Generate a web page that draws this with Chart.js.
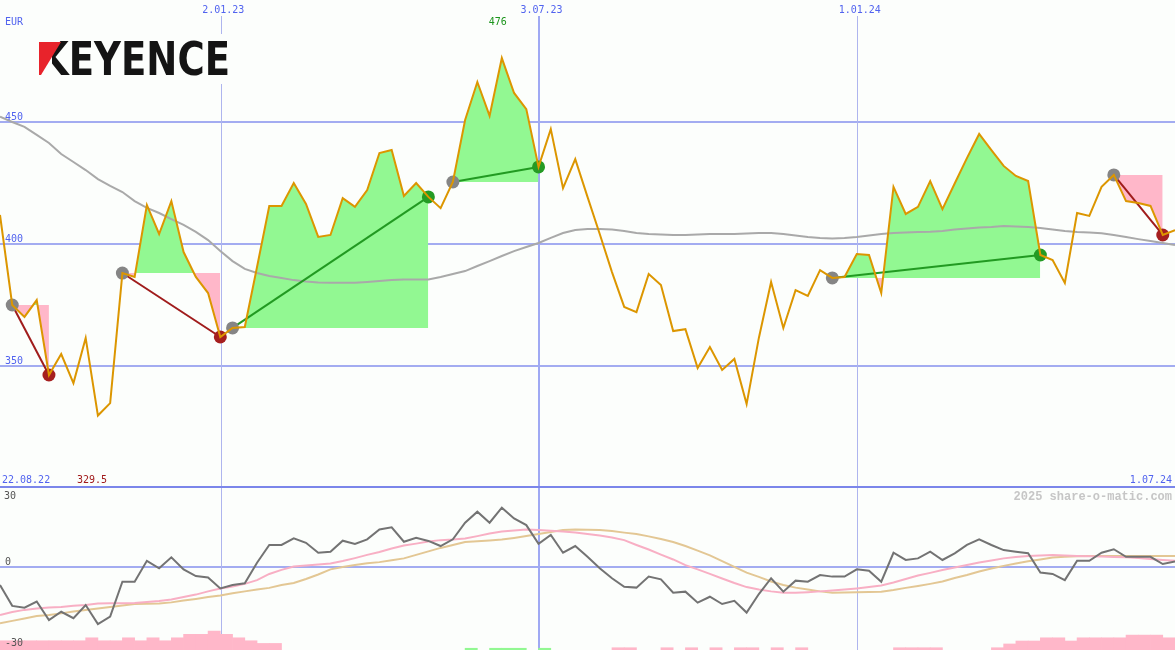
<!DOCTYPE html>
<html>
<head>
<meta charset="utf-8">
<script src="https://cdn.jsdelivr.net/npm/chart.js@4.4.0/dist/chart.umd.min.js"></script>
<style>
  html, body { margin: 0; padding: 0; background: #fcfefc; }
  #wrap { position: relative; width: 1175px; height: 650px; overflow: hidden; }
  #top { position: absolute; left: 0; top: 0; }
  #low { position: absolute; left: 0; top: 488px; }
</style>
</head>
<body>
<div id="wrap">
  <canvas id="top" width="1175" height="488"></canvas>
  <canvas id="low" width="1175" height="162"></canvas>
</div>
<script>
// weekly closes, 22.08.22 .. 1.07.24 (index = week number)
const weeks = [...Array(97).keys()];

const price = [
  411.7, 374.8, 369.9, 376.8, 346.1, 354.7, 342.8, 361.3, 329.5, 334.6,
  387.9, 386.3, 415.8, 403.9, 417.4, 396.5, 386.3, 379.7, 361.7, 365.4,
  365.8, 390.4, 415.4, 415.4, 424.8, 416.2, 402.7, 403.5, 418.6, 415.0,
  421.9, 437.1, 438.3, 419.5, 424.8, 419.1, 414.5, 425.2, 450.6, 466.2,
  452.3, 476.0, 461.7, 455.1, 431.4, 446.9, 422.7, 434.6, 419.1, 403.9,
  388.3, 374.0, 371.9, 387.5, 383.0, 364.1, 364.9, 349.0, 357.6, 348.2,
  352.7, 334.2, 361.3, 384.2, 365.4, 380.9, 378.5, 389.1, 385.9, 386.3,
  395.7, 395.3, 379.7, 423.2, 412.1, 415.0, 425.6, 414.1, 424.6, 435.0,
  444.9, 438.3, 431.8, 427.7, 425.6, 395.3, 393.2, 383.8, 412.5, 411.3,
  423.2, 428.1, 417.4, 416.6, 415.4, 403.5, 405.5
];

// long moving average (grey)
const avg = [
  452.0, 449.8, 447.8, 444.5, 441.2, 436.7, 433.4, 430.1, 426.4, 423.6,
  421.1, 417.4, 414.6, 412.5, 410.0, 407.6, 404.8, 401.4, 396.9, 392.8,
  389.6, 387.9, 386.7, 385.9, 385.0, 384.4, 384.0, 383.9, 383.9, 383.9,
  384.2, 384.6, 385.0, 385.2, 385.3, 385.3, 386.3, 387.5, 388.7, 390.8,
  392.8, 394.9, 396.9, 398.6, 400.2, 402.3, 404.3, 405.5, 405.9, 405.9,
  405.7, 405.1, 404.3, 403.9, 403.7, 403.5, 403.5, 403.7, 403.9, 403.9,
  403.9, 404.1, 404.3, 404.3, 403.9, 403.3, 402.7, 402.3, 402.1, 402.3,
  402.7, 403.3, 403.9, 404.3, 404.5, 404.7, 404.8, 405.1, 405.7, 406.2,
  406.6, 406.8, 407.2, 407.0, 406.8, 406.4, 405.7, 405.1, 404.7, 404.5,
  404.2, 403.5, 402.7, 401.8, 401.0, 400.2, 399.4
];

// lower panel: oscillator and its two signal lines
const osc = [
  -6.5, -14.3, -15.0, -12.7, -19.6, -16.5, -18.9, -14.0, -21.1, -18.3,
  -5.3, -5.3, 2.5, -0.3, 3.8, -0.7, -3.2, -3.7, -7.8, -6.5,
  -5.9, 1.8, 8.4, 8.4, 10.9, 9.2, 5.5, 5.9, 10.0, 8.8,
  10.5, 14.2, 15.0, 9.6, 11.1, 9.9, 8.0, 10.5, 16.7, 20.8,
  16.7, 22.3, 18.3, 15.8, 8.8, 12.1, 5.5, 8.0, 4.0, -0.3,
  -4.0, -7.2, -7.5, -3.4, -4.4, -9.4, -9.0, -13.1, -10.9, -13.6,
  -12.4, -16.8, -9.9, -4.0, -9.0, -4.9, -5.3, -2.8, -3.4, -3.4,
  -0.7, -1.2, -5.3, 5.5, 2.8, 3.4, 5.9, 2.8, 5.3, 8.4,
  10.5, 8.4, 6.5, 5.9, 5.3, -1.9, -2.4, -4.7, 2.5, 2.5,
  5.5, 6.8, 4.0, 4.0, 4.0, 1.3, 2.2
];
const sigPink = [
  -17.7, -16.6, -15.8, -15.3, -14.9, -14.7, -14.3, -14.0, -13.4, -13.3,
  -13.3, -13.2, -12.9, -12.5, -11.9, -11.0, -10.1, -8.9, -7.8, -7.1,
  -6.1, -4.7, -2.4, -0.9, 0.4, 0.7, 1.1, 1.5, 2.4, 3.5,
  4.7, 5.8, 7.1, 8.2, 8.9, 9.7, 10.2, 10.4, 10.8, 11.7,
  12.7, 13.4, 13.8, 14.2, 14.0, 13.7, 13.4, 13.0, 12.5, 11.9,
  11.2, 10.2, 8.4, 6.7, 4.8, 3.0, 0.9, -0.7, -2.4, -4.1,
  -5.8, -7.3, -8.2, -8.9, -9.4, -9.4, -9.2, -8.9, -8.6, -8.2,
  -7.8, -7.3, -6.7, -5.6, -4.3, -3.0, -2.0, -0.9, 0.0, 0.9,
  1.9, 2.6, 3.4, 3.9, 4.3, 4.5, 4.7, 4.5, 4.3, 4.2,
  4.1, 3.9, 3.8, 3.5, 3.2, 2.8, 2.5
];
const sigTan = [
  -20.8, -19.9, -19.0, -18.1, -17.7, -17.1, -16.4, -15.8, -15.3, -14.7,
  -14.2, -13.6, -13.5, -13.4, -13.0, -12.3, -11.7, -11.0, -10.4, -9.6,
  -8.9, -8.2, -7.6, -6.5, -5.8, -4.3, -2.6, -0.7, 0.2, 0.9,
  1.6, 2.0, 2.7, 3.4, 4.7, 6.0, 7.3, 8.4, 9.5, 9.8,
  10.1, 10.4, 11.0, 11.7, 12.5, 13.2, 14.0, 14.2, 14.1, 14.0,
  13.6, 13.0, 12.5, 11.6, 10.6, 9.5, 8.0, 6.3, 4.5, 2.4,
  0.2, -1.9, -3.5, -5.2, -6.5, -7.5, -8.2, -8.9, -9.4, -9.3,
  -9.2, -9.1, -9.0, -8.4, -7.6, -6.9, -6.1, -5.2, -3.9, -2.8,
  -1.5, -0.4, 0.6, 1.5, 2.3, 3.0, 3.7, 4.0, 4.2, 4.3,
  4.3, 4.3, 4.3, 4.3, 4.3, 4.3, 4.3
];

// histogram blocks along the bottom edge (top value of each weekly block)
const histPink = [
  -27.3, -27.3, -27.3, -27.3, -27.3, -27.3, -27.3, -26.2, -27.3, -27.3,
  -26.2, -27.3, -26.2, -27.3, -26.2, -24.9, -24.9, -23.7, -24.9, -26.2,
  -27.3, -28.3, -28.3, null, null, null, null, null, null, null,
  null, null, null, null, null, null, null, null, null, null,
  null, null, null, null, null, null, null, null, null, null,
  -29.9, -29.9, null, null, -29.9, null, -29.9, null, -29.9, null,
  -29.9, -29.9, null, -29.9, null, -29.9, null, null, null, null,
  null, null, null, -29.9, -29.9, -29.9, -29.9, null, null, null,
  null, -29.9, -28.5, -27.4, -27.4, -26.2, -26.2, -27.4, -26.2, -26.2,
  -26.2, -26.2, -25.2, -25.2, -25.2, -26.2
];
const histGreen = [
  null, null, null, null, null, null, null, null, null, null,
  null, null, null, null, null, null, null, null, null, null,
  null, null, null, null, null, null, null, null, null, null,
  null, null, null, null, null, null, null, null, -30.1, null,
  -30.1, -30.1, -30.1, null, -30.1, null, null, null, null, null,
  null, null, null, null, null, null, null, null, null, null,
  null, null, null, null, null, null, null, null, null, null,
  null, null, null, null, null, null, null, null, null, null,
  null, null, null, null, null, null, null, null, null, null,
  null, null, null, null, null, null
];

// signals: entry week (grey dot) -> exit week (green / red dot)
const tradeFrom = [1, 10, 19, 37, 68, 91];
const tradeTo = [4, 18, 35, 44, 85, 95];

const priceTicks = [450, 400, 350];
const oscTicks = [30, 0, -30];
const dateMarks = [18, 44, 70];
const dateLabels = ['2.01.23', '3.07.23', '1.01.24'];
const firstDate = '22.08.22';
const lastDate = '1.07.24';
const currency = 'EUR';

const BG = '#fcfefc';
const GRID = '#a3acf1';
const LABEL = '#5163ef';
const MONO = '"DejaVu Sans Mono", monospace';

function pts(arr, from) {
  return arr.map((v, i) => ({ x: (from || 0) + i, y: v }));
}
function hline(ctx, x1, x2, y, w, color) {
  ctx.fillStyle = color;
  ctx.fillRect(x1, y - w / 2, x2 - x1, w);
}
function vline(ctx, x, y1, y2, w, color) {
  ctx.fillStyle = color;
  ctx.fillRect(x - w / 2, y1, w, y2 - y1);
}

// ---------- price panel ----------
var topSets = [];
topSets.push({
  data: pts(price), borderColor: '#dc9600', borderWidth: 2,
  pointRadius: 0, order: 0
});
topSets.push({
  data: tradeFrom.map(i => ({ x: i, y: price[i] })), showLine: false,
  pointRadius: 6.5, pointBackgroundColor: '#858585', pointBorderWidth: 0, order: 1
});
topSets.push({
  data: tradeTo.map(i => ({ x: i, y: price[i] })), showLine: false,
  pointRadius: 6.5, pointBorderWidth: 0, order: 1,
  pointBackgroundColor: tradeTo.map((t, k) => price[t] > price[tradeFrom[k]] ? '#249b24' : '#a51f1f')
});
tradeFrom.forEach((f, k) => {
  var t = tradeTo[k];
  var up = price[t] > price[f];
  topSets.push({
    data: [{ x: f, y: price[f] }, { x: t, y: price[t] }],
    borderColor: up ? '#229a22' : '#a01c1c', borderWidth: 2, pointRadius: 0, order: 2
  });
  topSets.push({
    data: pts(price.slice(f, t + 1), f),
    borderColor: 'rgba(0,0,0,0)', borderWidth: 0, pointRadius: 0, order: 5,
    fill: { target: { value: price[f] }, above: '#92f892', below: '#ffb7c9' }
  });
});
topSets.push({
  data: pts(avg), borderColor: '#a9a9a9', borderWidth: 2, pointRadius: 0, order: 3
});

function drawLogo(ctx) {
  ctx.fillStyle = BG;
  ctx.fillRect(24, 34, 214, 50);
  ctx.save();
  ctx.font = 'bold 46px "DejaVu Sans"';
  var w = ctx.measureText('KEYENCE').width;
  ctx.translate(40, 75);
  ctx.scale(190 / w, 1);
  ctx.fillStyle = '#141414';
  ctx.textAlign = 'left';
  ctx.textBaseline = 'alphabetic';
  ctx.fillText('KEYENCE', 0, 0);
  ctx.restore();
  ctx.fillStyle = BG;
  ctx.fillRect(36, 38, 16, 40);
  ctx.fillStyle = '#e8232b';
  ctx.beginPath();
  ctx.moveTo(39, 42); ctx.lineTo(61, 42); ctx.lineTo(41, 75); ctx.lineTo(39, 75);
  ctx.closePath();
  ctx.fill();
}

const topDecor = {
  id: 'topDecor',
  beforeDatasetsDraw(chart) {
    const { ctx, scales: { x, y }, chartArea: a } = chart;
    ctx.save();
    priceTicks.forEach(v => hline(ctx, a.left, a.right, Math.round(y.getPixelForValue(v)), 2, GRID));
    dateMarks.forEach((d, k) => {
      var px = x.getPixelForValue(d);
      if (k === 1) vline(ctx, Math.round(px), 16, a.bottom, 2, '#9fa9f3');
      else vline(ctx, Math.ceil(px) + 0.5, 16, a.bottom, 1, '#aeb5ee');
    });
    ctx.restore();
  },
  afterDatasetsDraw(chart) {
    const { ctx, scales: { x, y }, chartArea: a } = chart;
    ctx.save();
    drawLogo(ctx);
    ctx.font = '10px ' + MONO;
    ctx.textBaseline = 'alphabetic';
    ctx.fillStyle = LABEL;
    ctx.textAlign = 'left';
    ctx.fillText(currency, 5, 25);
    priceTicks.forEach(v => ctx.fillText(String(v), 5, y.getPixelForValue(v) - 2));
    ctx.textAlign = 'center';
    dateMarks.forEach((d, k) => ctx.fillText(dateLabels[k], x.getPixelForValue(d) + 3, 13));
    var hi = price.indexOf(Math.max(...price));
    var lo = price.indexOf(Math.min(...price));
    ctx.fillStyle = '#1c951c';
    ctx.fillText(String(Math.round(price[hi])), x.getPixelForValue(hi) - 4, 25);
    ctx.textAlign = 'left';
    ctx.fillStyle = LABEL;
    ctx.fillText(firstDate, 2, 483);
    ctx.fillStyle = '#a11a1a';
    ctx.fillText(price[lo].toFixed(1), 77, 483);
    ctx.textAlign = 'right';
    ctx.fillStyle = LABEL;
    ctx.fillText(lastDate, 1172, 483);
    hline(ctx, 0, a.right, 487, 2, '#7b86ea');
    ctx.restore();
  }
};

new Chart(document.getElementById('top'), {
  type: 'line',
  data: { datasets: topSets },
  options: {
    responsive: false, animation: false, devicePixelRatio: 1, events: [],
    layout: { padding: 0, autoPadding: false },
    plugins: { legend: { display: false }, tooltip: { enabled: false } },
    elements: { line: { tension: 0 } },
    scales: {
      x: { type: 'linear', min: 0, max: 96, display: false },
      y: { min: 299.8, max: 499.8, display: false }
    }
  },
  plugins: [topDecor]
});

// ---------- oscillator panel ----------
const LOW_MIN = -30.75;
function bars(arr) {
  return arr.map((v, i) => v === null ? null : { x: i + 0.5, y: v }).filter(p => p);
}

const lowDecor = {
  id: 'lowDecor',
  beforeDatasetsDraw(chart) {
    const { ctx, scales: { x, y }, chartArea: a } = chart;
    ctx.save();
    hline(ctx, a.left, a.right, Math.round(y.getPixelForValue(0)), 2, GRID);
    dateMarks.forEach((d, k) => {
      var px = x.getPixelForValue(d);
      if (k === 1) vline(ctx, Math.round(px), a.top, a.bottom, 2, '#9fa9f3');
      else vline(ctx, Math.ceil(px) + 0.5, a.top, a.bottom, 1, '#aeb5ee');
    });
    ctx.restore();
  },
  afterDatasetsDraw(chart) {
    const { ctx, scales: { y } } = chart;
    ctx.save();
    ctx.font = '10px ' + MONO;
    ctx.fillStyle = '#555555';
    ctx.textAlign = 'left';
    ctx.fillText(String(oscTicks[0]), 4, 11);
    ctx.fillText(String(oscTicks[1]), 5, y.getPixelForValue(0) - 2.5);
    ctx.fillText(String(oscTicks[2]), 5, 158);
    ctx.font = 'bold 12px "Liberation Mono", monospace';
    ctx.fillStyle = '#c6c6c6';
    ctx.textAlign = 'right';
    ctx.fillText('2025 share-o-matic.com', 1172, 12);
    ctx.restore();
  }
};

new Chart(document.getElementById('low'), {
  type: 'line',
  data: {
    datasets: [
      { data: pts(osc), borderColor: '#737373', borderWidth: 2, pointRadius: 0, order: 0 },
      { data: pts(sigPink), borderColor: '#f8afc4', borderWidth: 2, pointRadius: 0, order: 1 },
      { data: pts(sigTan), borderColor: '#e3c794', borderWidth: 2, pointRadius: 0, order: 2 },
      { type: 'bar', data: bars(histPink), backgroundColor: '#ffb7c9', base: LOW_MIN,
        grouped: false, barPercentage: 1, categoryPercentage: 1, borderWidth: 0, order: 5 },
      { type: 'bar', data: bars(histGreen), backgroundColor: '#92f892', base: LOW_MIN,
        grouped: false, barPercentage: 1, categoryPercentage: 1, borderWidth: 0, order: 5 }
    ]
  },
  options: {
    responsive: false, animation: false, devicePixelRatio: 1, events: [],
    layout: { padding: 0, autoPadding: false },
    plugins: { legend: { display: false }, tooltip: { enabled: false } },
    scales: {
      x: { type: 'linear', min: 0, max: 96, offset: false, display: false },
      y: { min: LOW_MIN, max: 29.63, display: false }
    }
  },
  plugins: [lowDecor]
});
</script>
</body>
</html>
